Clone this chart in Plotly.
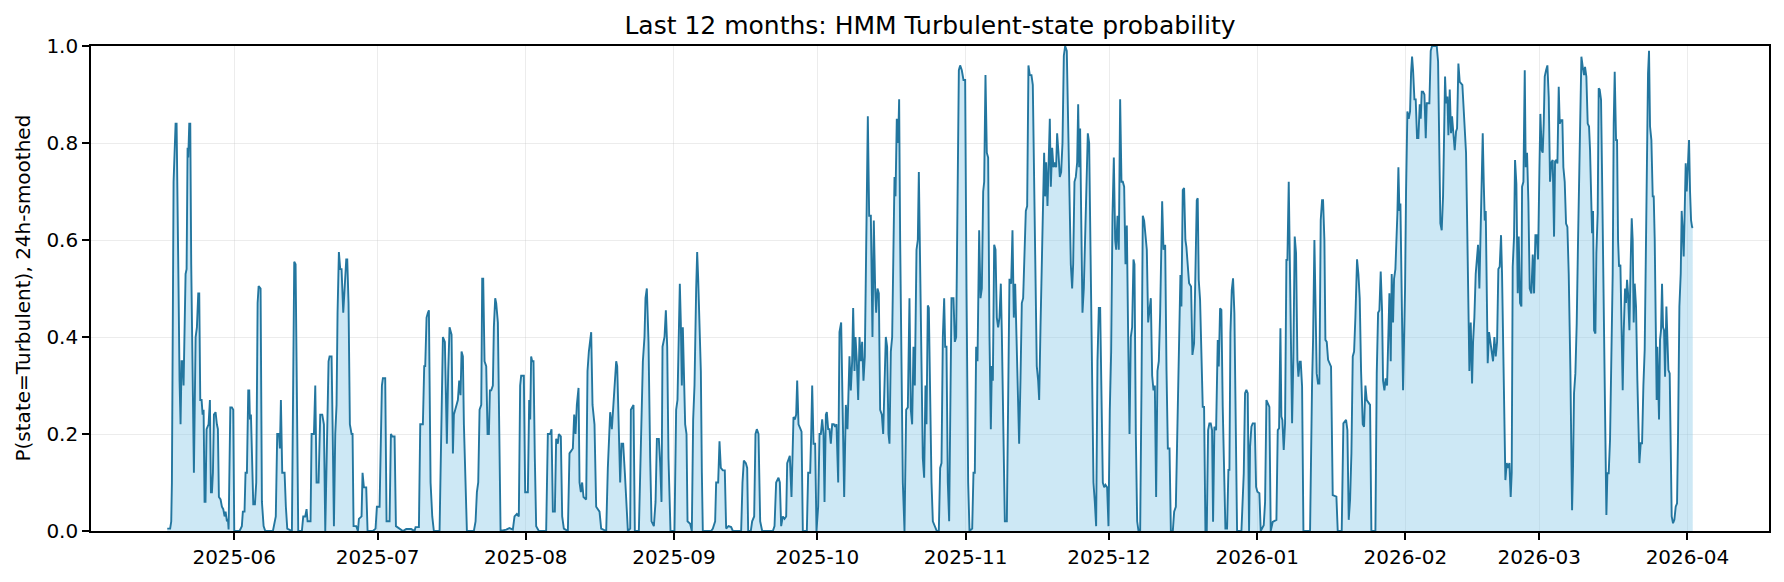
import pandas as pd
import plotly.graph_objects as go

# ---- data: time (days since 2025-05-18 00:00) and smoothed P(state=Turbulent) ----
start_date = "2025-05-18"

days_a = [0.0, 0.6, 0.83, 0.97, 1.32, 1.53, 1.74, 1.95, 2.09, 2.36, 2.57, 2.78, 2.99, 3.2, 3.41, 3.62, 3.83, 4.04, 4.25, 4.39, 4.6, 4.81, 5.01, 5.29, 5.57, 5.93, 6.2, 6.48, 6.69, 6.9, 7.18, 7.39, 7.6, 7.8, 8.0, 8.22, 8.64, 8.92, 9.13, 9.34, 9.55, 9.76, 10.1, 10.38, 10.59, 10.8, 11.15, 11.43, 11.71, 11.99, 12.2, 12.48, 12.69, 12.83, 12.97, 13.19, 13.52, 13.8, 14.01, 15.12, 15.6, 15.81, 16.16, 16.37, 16.66, 16.94, 17.15, 17.29, 17.5, 17.71, 17.99, 18.34, 18.61, 18.9, 19.11, 19.52, 19.8, 20.15, 20.5, 22.1, 22.45, 22.7, 23.0, 23.36, 23.56, 23.77, 24.05, 24.54, 24.81, 25.1, 26.07, 26.35, 26.56, 26.84, 27.12, 27.4, 28.16, 28.44, 28.86, 29.14, 29.35, 29.97, 30.19, 30.68, 30.96, 31.23, 31.65, 32.0, 32.42, 32.77, 33.05, 33.33, 33.74]
prob_a = [0.005, 0.005, 0.02, 0.1, 0.72, 0.78, 0.84, 0.84, 0.75, 0.5, 0.31, 0.22, 0.35, 0.35, 0.30, 0.45, 0.53, 0.54, 0.79, 0.77, 0.84, 0.84, 0.55, 0.3, 0.12, 0.40, 0.42, 0.49, 0.49, 0.27, 0.27, 0.24, 0.25, 0.06, 0.06, 0.21, 0.22, 0.27, 0.08, 0.08, 0.12, 0.24, 0.245, 0.22, 0.21, 0.07, 0.065, 0.05, 0.045, 0.03, 0.04, 0.02, 0.025, 0.003, 0.12, 0.255, 0.255, 0.25, 0.0, 0.0, 0.01, 0.04, 0.04, 0.12, 0.12, 0.29, 0.29, 0.23, 0.24, 0.13, 0.055, 0.055, 0.1, 0.47, 0.505, 0.50, 0.06, 0.01, 0.0, 0.0, 0.015, 0.03, 0.2, 0.2, 0.17, 0.27, 0.12, 0.12, 0.05, 0.005, 0.0, 0.25, 0.555, 0.55, 0.25, 0.0, 0.0, 0.03, 0.03, 0.045, 0.02, 0.02, 0.2, 0.2, 0.3, 0.1, 0.1, 0.24, 0.24, 0.22, 0.0, 0.14, 0.35]

days_b = [33.95, 34.37, 34.58, 34.86, 35.14, 35.41, 35.62, 35.9, 36.18, 36.46, 36.81, 37.09, 37.44, 37.65, 37.92, 38.2, 38.55, 38.76, 38.97, 39.53, 39.88, 40.09, 40.64, 40.85, 41.13, 41.62, 41.9, 43.02, 43.57, 43.85, 44.41, 44.9, 45.11, 45.59, 45.87, 46.5, 46.78, 47.06, 47.55, 47.83, 48.59, 49.29, 49.99, 51.03, 51.73, 51.94, 52.64, 52.92, 53.47, 53.75, 53.96, 54.24, 54.52, 54.73, 55.08, 55.43, 55.77, 56.96, 57.38, 57.66, 58.07, 58.49, 58.77, 59.05, 59.47, 59.75, 59.96, 60.24, 60.79, 61.07, 61.35, 61.56, 61.84, 62.05, 62.33, 62.68, 64.14, 64.49, 64.77, 65.05, 65.33, 65.68, 65.88, 66.09, 66.37, 66.72, 67.0, 67.28, 67.49, 67.77, 68.11, 68.32, 68.6, 68.81, 69.16, 69.44, 69.72]
prob_b = [0.36, 0.36, 0.22, 0.01, 0.2, 0.26, 0.45, 0.575, 0.54, 0.54, 0.45, 0.5, 0.56, 0.56, 0.47, 0.22, 0.2, 0.2, 0.01, 0.01, 0.0, 0.025, 0.03, 0.12, 0.09, 0.09, 0.0, 0.0, 0.005, 0.05, 0.05, 0.3, 0.315, 0.315, 0.02, 0.02, 0.2, 0.195, 0.195, 0.01, 0.005, 0.0, 0.004, 0.004, 0.0, 0.008, 0.008, 0.22, 0.22, 0.34, 0.34, 0.44, 0.45, 0.455, 0.1, 0.03, 0.0, 0.0, 0.24, 0.4, 0.39, 0.18, 0.33, 0.42, 0.405, 0.16, 0.24, 0.25, 0.27, 0.31, 0.28, 0.37, 0.36, 0.22, 0.1, 0.0, 0.0, 0.02, 0.08, 0.1, 0.25, 0.26, 0.52, 0.52, 0.35, 0.34, 0.2, 0.2, 0.29, 0.29, 0.3, 0.42, 0.48, 0.47, 0.43, 0.2, 0.0]

days_c = [70.89, 71.59, 72.29, 72.64, 73.13, 73.54, 73.82, 74.03, 74.59, 74.87, 75.43, 75.71, 75.92, 76.12, 76.33, 76.61, 76.89, 77.17, 77.73, 79.26, 79.61, 80.1, 80.38, 80.66, 81.08, 81.35, 81.7, 81.91, 82.33, 82.61, 82.96, 83.8, 84.14, 84.49, 84.84, 85.12, 85.4, 85.68, 86.03, 86.24, 86.52, 86.79, 87.07, 87.63, 87.91, 88.19, 88.68, 88.96, 89.37, 89.72, 90.42, 90.77, 91.82, 92.16, 92.65, 93.0, 93.35, 93.63, 93.91, 94.12, 94.4, 94.74, 95.02, 95.37, 95.72, 96.0, 96.35, 96.84, 96.98, 97.53, 97.81, 98.65, 99.07, 99.49, 99.83, 100.04, 100.32, 100.67, 101.02, 101.3, 101.79, 102.14, 102.42, 102.83, 103.11, 103.39, 103.6, 104.02, 104.3, 104.58, 104.85, 105.27]
prob_c = [0.003, 0.006, 0.003, 0.03, 0.035, 0.03, 0.3, 0.32, 0.32, 0.08, 0.08, 0.27, 0.23, 0.36, 0.35, 0.35, 0.15, 0.01, 0.0, 0.0, 0.2, 0.2, 0.21, 0.04, 0.04, 0.19, 0.18, 0.2, 0.195, 0.03, 0.005, 0.0, 0.16, 0.165, 0.17, 0.24, 0.2, 0.26, 0.295, 0.1, 0.08, 0.1, 0.07, 0.065, 0.33, 0.37, 0.41, 0.26, 0.22, 0.05, 0.04, 0.005, 0.0, 0.13, 0.245, 0.21, 0.27, 0.3, 0.35, 0.34, 0.2, 0.1, 0.18, 0.18, 0.12, 0.07, 0.0, 0.005, 0.25, 0.26, 0.0, 0.0, 0.2, 0.35, 0.4, 0.48, 0.5, 0.39, 0.15, 0.02, 0.01, 0.06, 0.19, 0.19, 0.14, 0.06, 0.38, 0.4, 0.455, 0.38, 0.15, 0.0]

days_d = [106.1, 106.45, 106.73, 107.0, 107.22, 107.43, 107.64, 107.85, 108.06, 108.34, 108.62, 108.83, 109.38, 109.73, 110.01, 110.29, 110.64, 110.85, 111.06, 111.34, 111.62, 111.83, 112.03, 113.78, 114.13, 114.61, 114.82, 115.24, 115.52, 115.8, 116.22, 116.63, 116.91, 117.4, 117.96, 118.31, 120.05, 120.33, 120.61, 121.03, 121.31, 121.52, 122.07, 122.35, 122.77, 123.05, 123.33, 123.68, 124.03, 124.45, 126.68, 127.03, 127.37, 127.86, 128.14, 128.42, 128.77, 129.12, 129.47, 129.68, 129.96, 130.23, 130.58, 130.79, 131.0, 131.28, 131.56, 131.77, 132.05, 132.47, 132.68, 132.95, 133.79, 134.07, 134.49, 134.7, 134.91, 135.19, 135.53, 135.81, 136.16, 136.44, 136.72, 137.0, 137.28, 137.49, 137.77, 137.97, 138.25, 138.53, 138.81, 139.09, 139.44, 139.72, 139.99, 140.35]
prob_d = [0.0, 0.25, 0.27, 0.4, 0.51, 0.43, 0.3, 0.42, 0.3, 0.22, 0.2, 0.02, 0.015, 0.0, 0.23, 0.3, 0.5, 0.575, 0.52, 0.44, 0.33, 0.12, 0.0, 0.0, 0.005, 0.02, 0.1, 0.1, 0.185, 0.13, 0.125, 0.125, 0.005, 0.01, 0.008, 0.0, 0.0, 0.1, 0.145, 0.14, 0.13, 0.0, 0.0, 0.02, 0.03, 0.2, 0.21, 0.2, 0.02, 0.0, 0.0, 0.01, 0.1, 0.11, 0.1, 0.01, 0.03, 0.025, 0.03, 0.14, 0.15, 0.155, 0.07, 0.2, 0.235, 0.23, 0.24, 0.31, 0.22, 0.21, 0.205, 0.0, 0.0, 0.12, 0.12, 0.2, 0.3, 0.18, 0.18, 0.0, 0.05, 0.2, 0.2, 0.23, 0.2, 0.06, 0.24, 0.245, 0.21, 0.21, 0.18, 0.22, 0.22, 0.215, 0.22, 0.1]

days_e = [140.62, 140.97, 141.25, 141.6, 141.95, 142.29, 142.71, 142.99, 143.27, 143.48, 143.76, 143.97, 144.25, 144.53, 144.81, 145.08, 145.36, 145.64, 145.92, 146.2, 146.55, 146.83, 147.18, 147.52, 147.8, 148.08, 148.29, 148.57, 148.85, 149.13, 149.48, 149.76, 150.03, 150.31, 150.59, 150.87, 151.08, 151.36, 151.64, 151.92, 152.13, 152.34, 152.61, 152.89, 153.1, 153.31, 153.59, 153.87, 154.22, 154.57, 154.92, 155.26, 155.54, 155.82, 156.1, 156.38, 156.73, 157.01, 157.22, 157.5, 157.78, 158.05, 158.33, 158.61, 158.82, 159.1, 159.31, 159.59, 159.87, 160.15, 160.56, 160.98, 161.4, 161.68, 161.96, 162.24, 162.52, 162.73, 163.0, 163.28, 163.56, 163.84, 164.05, 164.47, 164.75, 165.03, 165.31, 165.59, 165.86, 166.21, 166.56, 166.91, 167.19, 167.54, 167.82, 168.38, 168.65, 168.93, 169.21, 169.49, 169.84, 170.12, 170.4, 170.68, 170.89, 171.16, 171.44, 171.72, 172.0, 172.28, 172.49, 172.7, 172.98, 173.26, 173.53, 173.81, 174.09, 174.37, 174.58, 174.86, 175.21, 175.63, 175.91]
prob_e = [0.41, 0.43, 0.25, 0.07, 0.26, 0.21, 0.36, 0.29, 0.35, 0.46, 0.33, 0.4, 0.35, 0.27, 0.4, 0.35, 0.39, 0.31, 0.36, 0.6, 0.855, 0.65, 0.65, 0.4, 0.64, 0.5, 0.45, 0.5, 0.49, 0.25, 0.24, 0.2, 0.33, 0.4, 0.38, 0.2, 0.18, 0.37, 0.4, 0.6, 0.73, 0.69, 0.85, 0.8, 0.89, 0.6, 0.35, 0.1, 0.0, 0.25, 0.255, 0.48, 0.25, 0.22, 0.38, 0.3, 0.58, 0.6, 0.74, 0.54, 0.4, 0.15, 0.11, 0.3, 0.22, 0.465, 0.46, 0.27, 0.1, 0.02, 0.01, 0.0, 0.0, 0.13, 0.14, 0.4, 0.48, 0.38, 0.38, 0.1, 0.02, 0.3, 0.48, 0.48, 0.39, 0.4, 0.7, 0.95, 0.96, 0.95, 0.93, 0.93, 0.5, 0.1, 0.0, 0.005, 0.12, 0.12, 0.38, 0.35, 0.62, 0.48, 0.5, 0.7, 0.72, 0.94, 0.78, 0.77, 0.4, 0.21, 0.34, 0.31, 0.59, 0.58, 0.44, 0.42, 0.44, 0.51, 0.41, 0.25, 0.02, 0.02, 0.25]

days_f = [176.18, 176.53, 176.81, 177.09, 177.37, 177.65, 178.0, 178.2, 178.48, 178.76, 179.04, 179.32, 179.6, 179.88, 180.15, 180.43, 180.78, 181.06, 181.34, 181.62, 181.89, 182.18, 182.39, 182.67, 182.95, 183.15, 183.43, 183.64, 183.85, 184.13, 184.41, 184.62, 184.83, 185.11, 185.38, 185.66, 185.94, 186.15, 186.43, 186.71, 186.99, 187.27, 187.55, 187.83, 188.17, 188.45, 188.73, 189.01, 189.29, 189.5, 189.78, 190.06, 190.34, 190.55, 190.76, 190.96, 191.17, 191.45, 191.73, 192.01, 192.29, 192.57, 192.85, 193.13, 193.47, 193.75, 194.03, 194.31, 194.59, 194.87, 195.15, 195.43, 195.71, 195.99, 196.26, 196.61, 196.89, 197.17, 197.45, 197.73, 198.01, 198.29, 198.5, 198.78, 199.05, 199.33, 199.61, 199.89, 200.17, 200.45, 200.73, 201.01, 201.29, 201.56, 201.84, 202.12, 202.33, 202.61, 202.89, 203.17, 203.52, 203.8, 204.07, 204.35, 204.63, 204.91, 205.19, 205.47, 205.75, 206.03, 206.31, 206.59, 206.86, 207.14, 207.42, 207.7, 207.91, 208.12, 208.4, 208.75, 209.03, 209.31, 209.66, 209.94, 210.35, 210.63, 210.98, 211.26]
prob_f = [0.52, 0.51, 0.62, 0.44, 0.51, 0.4, 0.28, 0.18, 0.31, 0.47, 0.48, 0.58, 0.66, 0.67, 0.96, 0.94, 0.94, 0.92, 0.7, 0.45, 0.34, 0.31, 0.27, 0.42, 0.56, 0.67, 0.78, 0.69, 0.76, 0.67, 0.76, 0.85, 0.71, 0.79, 0.75, 0.76, 0.75, 0.82, 0.78, 0.73, 0.74, 0.8, 0.98, 1.0, 0.99, 0.85, 0.65, 0.55, 0.5, 0.55, 0.72, 0.73, 0.76, 0.88, 0.75, 0.83, 0.66, 0.45, 0.5, 0.6, 0.7, 0.82, 0.8, 0.55, 0.25, 0.1, 0.06, 0.01, 0.35, 0.46, 0.46, 0.3, 0.1, 0.09, 0.095, 0.09, 0.01, 0.25, 0.37, 0.65, 0.77, 0.6, 0.58, 0.65, 0.58, 0.89, 0.72, 0.72, 0.71, 0.55, 0.63, 0.4, 0.2, 0.4, 0.42, 0.56, 0.55, 0.2, 0.02, 0.0, 0.0, 0.3, 0.65, 0.64, 0.6, 0.58, 0.43, 0.46, 0.48, 0.32, 0.29, 0.3, 0.07, 0.33, 0.35, 0.45, 0.61, 0.68, 0.58, 0.59, 0.33, 0.17, 0.17, 0.0, 0.0, 0.04, 0.05, 0.2]

days_g = [211.94, 212.15, 212.43, 212.71, 212.98, 213.19, 213.47, 213.75, 214.17, 214.45, 214.8, 215.08, 215.36, 215.56, 215.77, 216.05, 216.33, 216.61, 216.89, 217.17, 217.45, 217.73, 218.0, 218.28, 218.56, 218.77, 219.05, 219.4, 219.75, 219.96, 220.24, 220.51, 220.79, 221.07, 221.35, 221.7, 221.98, 222.19, 222.4, 222.68, 222.95, 223.23, 223.51, 223.79, 224.7, 225.19, 225.46, 225.74, 226.02, 226.3, 226.51, 226.79, 227.07, 227.49, 227.77, 228.04, 228.46, 228.74, 229.37, 229.65, 229.93, 230.21, 230.55, 230.83, 231.25, 232.02, 232.3, 232.58, 232.86, 233.06, 233.27, 233.55, 233.83, 234.11, 234.32, 234.6, 234.81, 235.09, 235.3, 235.57, 235.85, 236.13, 236.41, 236.62, 236.9, 237.11, 237.39, 237.67, 239.06, 239.48, 239.69, 239.97, 240.25, 240.45, 240.73, 241.01, 241.29, 241.57, 241.78, 242.06, 242.27, 242.55, 242.83, 243.1, 243.45, 243.8, 244.57, 244.85, 245.68, 246.03, 246.31, 246.59, 246.87, 247.15, 247.43]
prob_g = [0.528, 0.463, 0.703, 0.707, 0.60, 0.586, 0.538, 0.511, 0.504, 0.363, 0.387, 0.531, 0.682, 0.686, 0.518, 0.477, 0.325, 0.256, 0.256, 0.0, 0.0, 0.208, 0.222, 0.222, 0.208, 0.019, 0.215, 0.208, 0.394, 0.339, 0.459, 0.456, 0.256, 0.122, 0.005, 0.005, 0.126, 0.126, 0.408, 0.497, 0.521, 0.449, 0.236, 0.0, 0.0, 0.119, 0.284, 0.291, 0.284, 0.0, 0.174, 0.215, 0.222, 0.222, 0.091, 0.081, 0.078, 0.0, 0.012, 0.06, 0.27, 0.263, 0.256, 0.0, 0.019, 0.023, 0.208, 0.212, 0.418, 0.236, 0.229, 0.167, 0.222, 0.559, 0.559, 0.72, 0.531, 0.325, 0.222, 0.359, 0.607, 0.573, 0.353, 0.318, 0.349, 0.349, 0.298, 0.0, 0.0, 0.304, 0.394, 0.60, 0.463, 0.325, 0.304, 0.304, 0.641, 0.682, 0.682, 0.60, 0.394, 0.39, 0.353, 0.346, 0.339, 0.074, 0.071, 0.0, 0.0, 0.222, 0.225, 0.229, 0.208, 0.023, 0.064]

days_h = [247.71, 247.99, 248.27, 248.54, 248.89, 249.17, 249.45, 249.73, 250.08, 250.36, 250.64, 250.92, 251.19, 251.61, 251.89, 252.73, 253.01, 253.29, 253.56, 253.84, 254.12, 254.33, 254.61, 254.89, 255.17, 255.45, 255.66, 255.94, 256.14, 256.42, 256.63, 256.91, 257.12, 257.33, 257.54, 257.75, 257.96, 258.24, 258.51, 258.72, 258.93, 259.14, 259.42, 259.7, 259.98, 260.19, 260.4, 260.61, 260.89, 261.16, 261.44, 261.72, 262.0, 262.21, 262.42, 262.7, 262.98, 263.26, 263.47, 264.02, 264.3, 264.58, 265.56, 265.84, 266.11, 266.32, 266.6, 266.88, 267.09, 267.3, 267.51, 267.79, 268.0, 268.28, 268.55, 268.76, 269.04, 269.32, 269.6, 269.81, 270.09, 270.37, 270.92, 271.2, 271.48, 271.69, 271.9, 272.18, 272.39, 272.67, 272.95, 273.16, 273.43, 273.71, 273.99, 274.2, 274.48, 274.69, 274.97, 275.18, 275.39, 275.6, 275.81, 276.01, 276.22, 276.5, 276.78, 277.06, 277.34, 277.62, 277.9, 278.18, 278.45, 278.73, 279.01, 279.22, 279.43, 279.71, 279.92, 280.2, 280.48, 280.76, 281.03, 281.24, 281.45, 281.73, 281.94, 282.22, 282.5, 282.71, 282.99, 283.27]
prob_h = [0.16, 0.36, 0.37, 0.44, 0.56, 0.53, 0.48, 0.33, 0.22, 0.215, 0.30, 0.27, 0.265, 0.26, 0.0, 0.0, 0.325, 0.45, 0.455, 0.535, 0.455, 0.31, 0.29, 0.315, 0.30, 0.43, 0.49, 0.35, 0.53, 0.43, 0.52, 0.54, 0.59, 0.655, 0.75, 0.66, 0.675, 0.41, 0.29, 0.39, 0.50, 0.70, 0.865, 0.85, 0.865, 0.944, 0.978, 0.95, 0.89, 0.89, 0.81, 0.81, 0.88, 0.85, 0.906, 0.906, 0.90, 0.81, 0.882, 0.882, 0.99, 1.0, 1.0, 0.968, 0.81, 0.634, 0.62, 0.69, 0.81, 0.937, 0.882, 0.896, 0.816, 0.91, 0.82, 0.855, 0.82, 0.785, 0.824, 0.83, 0.964, 0.926, 0.92, 0.875, 0.806, 0.78, 0.65, 0.476, 0.33, 0.43, 0.304, 0.39, 0.44, 0.53, 0.56, 0.59, 0.5, 0.6, 0.70, 0.82, 0.72, 0.64, 0.66, 0.53, 0.346, 0.41, 0.39, 0.37, 0.35, 0.40, 0.36, 0.39, 0.54, 0.545, 0.61, 0.53, 0.39, 0.256, 0.105, 0.14, 0.13, 0.14, 0.07, 0.12, 0.545, 0.607, 0.765, 0.716, 0.49, 0.607, 0.47, 0.463]

days_i = [283.41, 283.69, 283.97, 284.17, 284.45, 284.73, 285.01, 285.36, 285.64, 285.92, 286.2, 286.48, 286.75, 287.03, 287.24, 287.52, 287.73, 287.94, 288.15, 288.43, 288.71, 288.99, 289.26, 289.54, 289.82, 290.1, 290.31, 290.59, 290.8, 291.08, 291.29, 291.57, 291.84, 292.05, 292.33, 292.61, 292.89, 293.17, 293.31, 293.52, 293.73, 293.87, 294.07, 294.28, 294.56, 294.84, 295.12, 295.4, 295.61, 295.82, 296.1, 296.38, 296.58, 296.86, 297.14, 297.42, 297.63, 297.84, 298.05, 298.26, 298.47, 298.75, 298.95, 299.23, 299.44, 299.65, 299.93, 300.14, 300.42, 300.7, 300.91, 301.05, 301.26, 301.53, 301.81, 302.09, 302.37, 302.58, 302.79, 303.07, 303.28, 303.49, 303.7, 303.98, 304.18, 304.46, 304.67, 304.95, 305.16, 305.37, 305.58, 305.86, 306.14, 306.35, 306.55, 306.76, 306.97, 307.25, 307.53, 307.74, 307.95, 308.23, 308.51, 308.79, 309.06, 309.34, 309.55, 309.76, 309.97, 310.18, 310.46, 310.74, 310.95, 311.16, 311.37, 311.57, 311.71, 311.85, 312.06, 312.27, 312.48, 312.69, 312.9, 313.11, 313.32, 313.6, 313.81, 314.02, 314.29, 314.5, 314.71, 314.99, 315.27, 315.55, 315.83, 316.04, 316.32, 316.6, 316.8, 317.01, 317.22, 317.43, 317.64, 317.85, 318.13, 318.34, 318.55, 318.76, 318.97, 319.11]
prob_i = [0.71, 0.72, 0.95, 0.75, 0.78, 0.68, 0.50, 0.49, 0.57, 0.49, 0.61, 0.61, 0.56, 0.74, 0.86, 0.785, 0.78, 0.84, 0.937, 0.95, 0.96, 0.895, 0.72, 0.76, 0.765, 0.607, 0.762, 0.765, 0.758, 0.916, 0.84, 0.847, 0.847, 0.75, 0.72, 0.634, 0.627, 0.53, 0.463, 0.33, 0.153, 0.043, 0.133, 0.284, 0.325, 0.428, 0.60, 0.758, 0.91, 0.978, 0.957, 0.94, 0.957, 0.937, 0.84, 0.834, 0.785, 0.71, 0.614, 0.66, 0.414, 0.407, 0.573, 0.655, 0.913, 0.91, 0.889, 0.737, 0.531, 0.256, 0.112, 0.033, 0.119, 0.119, 0.188, 0.36, 0.531, 0.84, 0.947, 0.806, 0.806, 0.60, 0.545, 0.549, 0.41, 0.29, 0.41, 0.50, 0.47, 0.518, 0.49, 0.414, 0.56, 0.645, 0.60, 0.43, 0.51, 0.463, 0.31, 0.215, 0.14, 0.181, 0.181, 0.30, 0.373, 0.60, 0.806, 0.944, 0.99, 0.834, 0.806, 0.69, 0.69, 0.60, 0.43, 0.27, 0.38, 0.29, 0.23, 0.394, 0.414, 0.51, 0.42, 0.414, 0.318, 0.463, 0.373, 0.332, 0.325, 0.188, 0.03, 0.016, 0.023, 0.05, 0.057, 0.2, 0.463, 0.531, 0.66, 0.62, 0.566, 0.66, 0.758, 0.70, 0.765, 0.806, 0.70, 0.641, 0.627, 0.625]

title_text = "Last 12 months: HMM Turbulent-state probability"
y_label = "P(state=Turbulent), 24h-smoothed"
y_ticks = [0.0, 0.2, 0.4, 0.6, 0.8, 1.0]

# ---- assemble ----
days = days_a + days_b + days_c + days_d + days_e + days_f + days_g + days_h + days_i
prob = prob_a + prob_b + prob_c + prob_d + prob_e + prob_f + prob_g + prob_h + prob_i
base = pd.Timestamp(start_date)
t = base + pd.to_timedelta(pd.Series(days), unit="D")

span = t.max() - t.min()
x_range = [t.min() - 0.05 * span, t.max() + 0.05 * span]

FONT = "DejaVu Sans"
LINE = "#23769f"

fig = go.Figure()
fig.add_trace(go.Scatter(
    x=t, y=prob, mode="lines",
    line=dict(color=LINE, width=1.9),
    fill="tozeroy", fillcolor="rgba(135,200,232,0.42)",
    hoverinfo="skip", showlegend=False,
))

axis_common = dict(
    showline=True, linecolor="black", linewidth=1.6, mirror=True,
    ticks="outside", ticklen=7, tickwidth=1.6, tickcolor="black",
    showgrid=True, gridcolor="rgba(200,200,200,0.35)", gridwidth=1.3,
    zeroline=False, tickfont=dict(family=FONT, size=20, color="black"),
)

fig.update_layout(
    width=1784, height=582,
    margin=dict(l=91, r=15, t=46, b=51),
    paper_bgcolor="white", plot_bgcolor="white",
    title=dict(text=title_text, x=0.5, xref="paper", y=1 - 25 / 582, yref="container",
               xanchor="center", yanchor="middle",
               font=dict(family=FONT, size=25, color="black")),
    xaxis=dict(type="date", range=x_range, dtick="M1", tick0="2025-06-01",
               tickformat="%Y-%m", **axis_common),
    yaxis=dict(range=[0, 1], tickvals=y_ticks, tickformat=".1f", **axis_common),
    annotations=[dict(text=y_label, textangle=-90, xref="paper", yref="paper",
                      x=(22 - 91) / 1678, y=0.5, xanchor="center", yanchor="middle",
                      showarrow=False, font=dict(family=FONT, size=20, color="black"))],
)

fig.write_html("out.html")
